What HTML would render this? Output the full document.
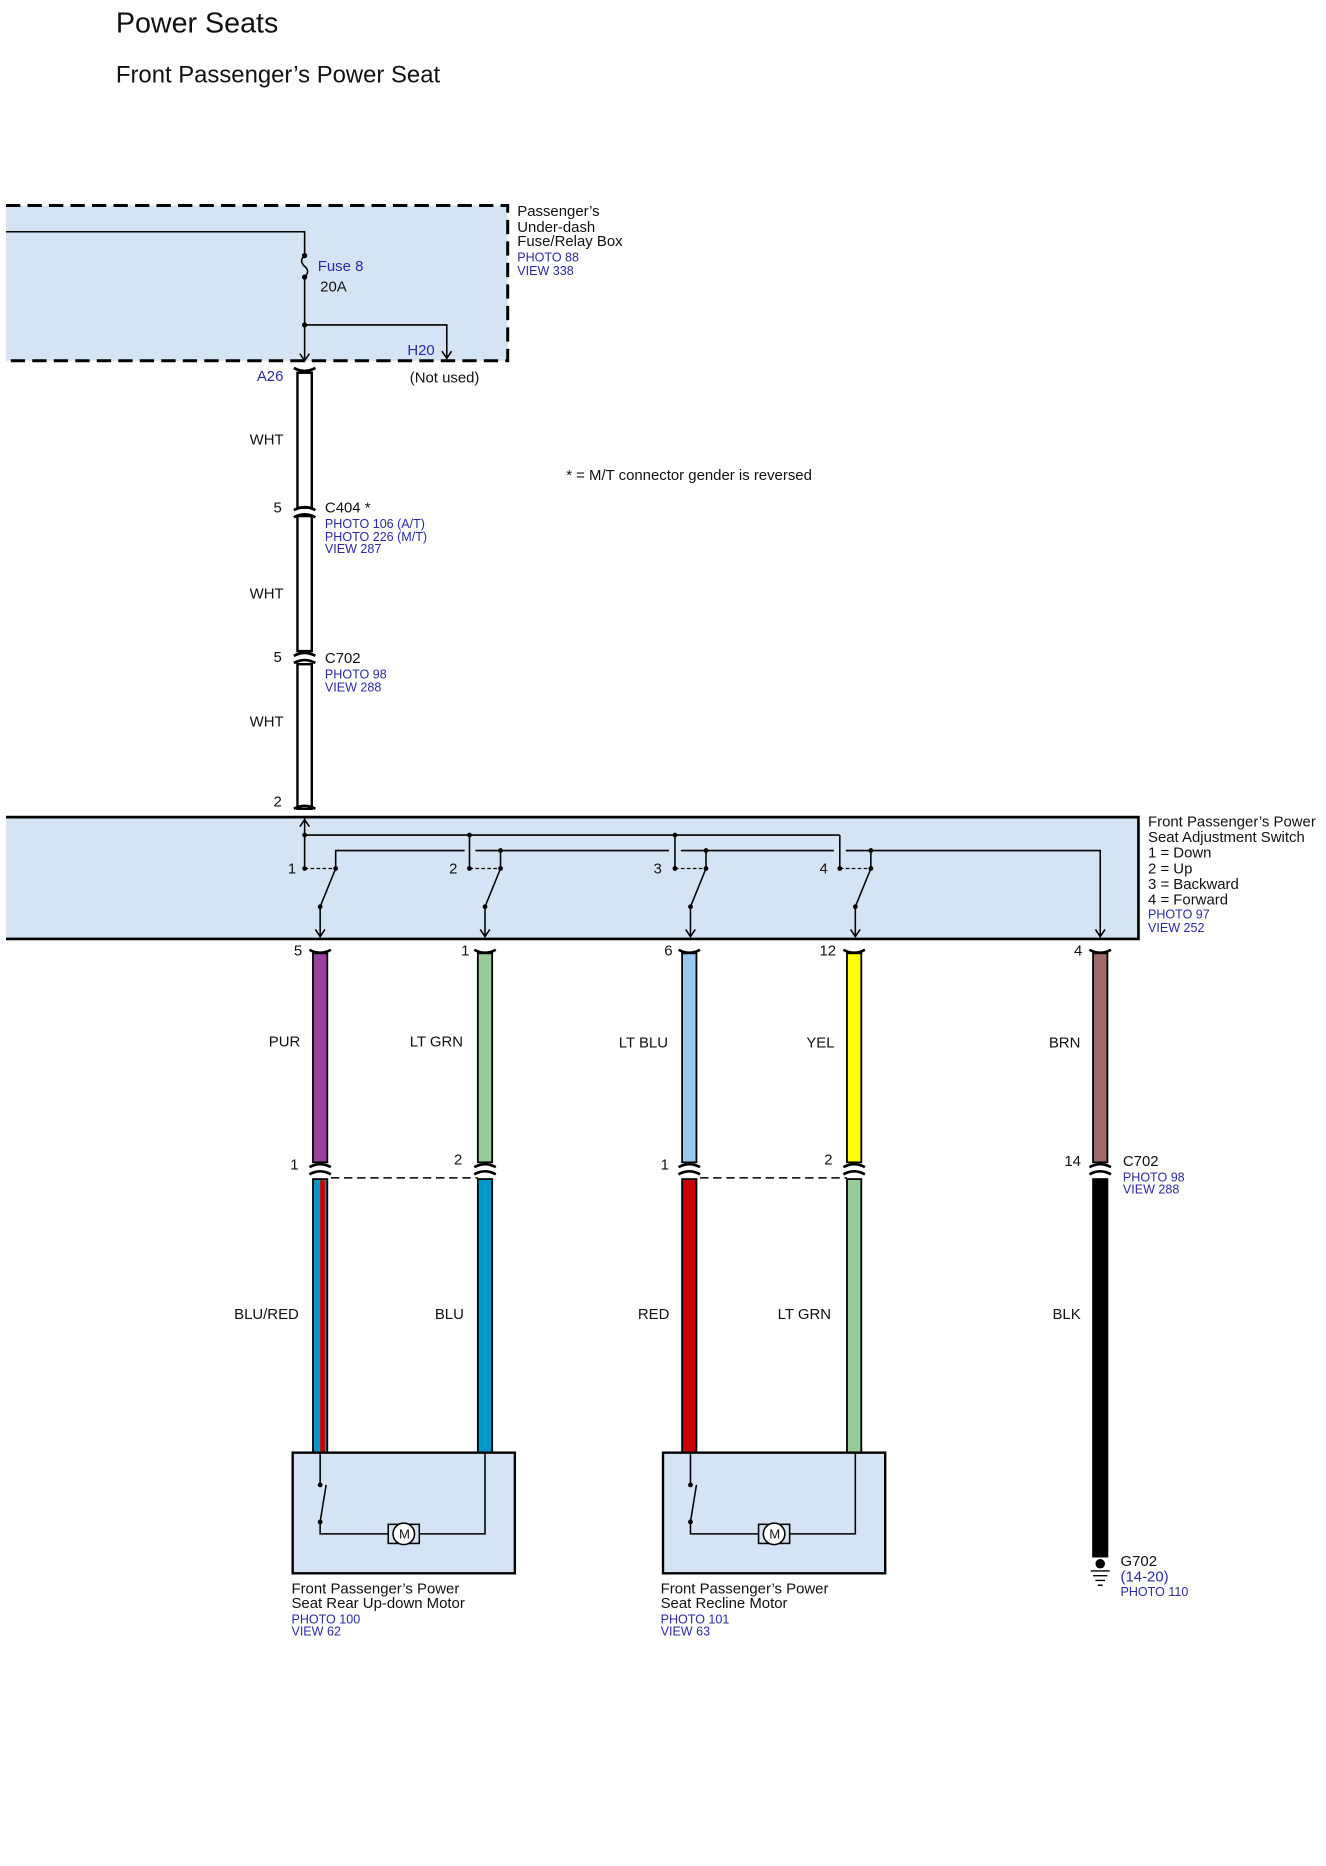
<!DOCTYPE html>
<html><head><meta charset="utf-8"><style>
html,body{margin:0;padding:0;background:#fff}
svg{display:block}
text{font-family:"Liberation Sans",sans-serif;fill:#111}
.s{font-size:12.5px}
.b{font-size:10.5px;fill:#2a2aa0}
.bl{font-size:12.5px;fill:#2a2aa0}
</style></head><body>
<svg width="1326" height="1866" viewBox="0 1 1110 1562" xmlns="http://www.w3.org/2000/svg">
<defs>
<marker id="ar" markerWidth="10" markerHeight="10" refX="9" refY="5" orient="auto" markerUnits="userSpaceOnUse">
<path d="M3,1 L9,5 L3,9" fill="none" stroke="#000" stroke-width="1.3"/></marker>
</defs>
<text x="97" y="28" style="font-size:24px">Power Seats</text>
<text x="97" y="70" style="font-size:20px">Front Passenger’s Power Seat</text>

<rect x="5" y="173" width="420" height="130" fill="#d4e4f4"/>
<path d="M5,173 H425 V303 H5" fill="none" stroke="#000" stroke-width="2.5" stroke-dasharray="12,6"/>
<path d="M5,195 H255 V215" fill="none" stroke="#000" stroke-width="1.3"/>
<path d="M255,215 q-5,4 0,9 q5,4 0,9" fill="none" stroke="#000" stroke-width="1.3"/>
<circle cx="255" cy="215" r="2.2"/><circle cx="255" cy="233" r="2.2"/><circle cx="255" cy="273" r="2.2"/>
<path d="M255,233 V303" fill="none" stroke="#000" stroke-width="1.3" marker-end="url(#ar)"/>
<path d="M255,273 H374 V301" fill="none" stroke="#000" stroke-width="1.3" marker-end="url(#ar)"/>
<text x="266" y="228" class="bl">Fuse 8</text>
<text x="268" y="245" class="s">20A</text>
<text x="341" y="298" class="bl">H20</text>
<text x="433" y="182" class="s">Passenger’s</text>
<text x="433" y="195" class="s">Under-dash</text>
<text x="433" y="207" class="s">Fuse/Relay Box</text>
<text x="433" y="220" class="b">PHOTO 88</text>
<text x="433" y="231" class="b">VIEW 338</text>
<text x="343" y="321" class="s">(Not used)</text>
<text x="215" y="320" class="bl">A26</text>

<g fill="#fff" stroke="#000" stroke-width="2">
<rect x="249" y="313" width="12" height="113"/>
<rect x="249" y="433" width="12" height="113"/>
<rect x="249" y="557" width="12" height="121"/>
</g>
<g fill="none" stroke="#000" stroke-width="2.2">
<path d="M246,309 q9,5 18,0"/><path d="M246,428 q9,-5 18,0"/><path d="M246,434 q9,-5 18,0"/>
<path d="M246,550 q9,-5 18,0"/><path d="M246,556 q9,-5 18,0"/><path d="M246,678 q9,-5 18,0"/>
</g>
<text x="209" y="373" class="s">WHT</text>
<text x="209" y="502" class="s">WHT</text>
<text x="209" y="609" class="s">WHT</text>
<text x="229" y="430" class="s">5</text>
<text x="272" y="430" class="s">C404 *</text>
<text x="272" y="443" class="b">PHOTO 106 (A/T)</text>
<text x="272" y="454" class="b">PHOTO 226 (M/T)</text>
<text x="272" y="464" class="b">VIEW 287</text>
<text x="229" y="555" class="s">5</text>
<text x="272" y="556" class="s">C702</text>
<text x="272" y="569" class="b">PHOTO 98</text>
<text x="272" y="580" class="b">VIEW 288</text>
<text x="229" y="676" class="s">2</text>
<text x="474" y="403" class="s">*  =  M/T connector gender is reversed</text>

<rect x="5" y="685" width="948" height="102" fill="#d4e4f4"/>
<path d="M5,685 H953 V787 H5" fill="none" stroke="#000" stroke-width="2.2"/>
<g fill="none" stroke="#000" stroke-width="1.3">
<path d="M255,700 V687" marker-end="url(#ar)"/>
<path d="M255,700 H703"/>
<path d="M255,700 V728 M393,700 V728 M565,700 V728 M703,700 V728"/>
<path d="M281,728 V713 H389 M398,713 H560 M570,713 H698 M708,713 H921 V785" marker-end="url(#ar)"/>
<path d="M419,713 V728 M591,713 V728 M729,713 V728"/>
</g>
<g fill="#000">
<circle cx="255" cy="700" r="2"/><circle cx="393" cy="700" r="2"/><circle cx="565" cy="700" r="2"/>
<circle cx="419" cy="713" r="2"/><circle cx="591" cy="713" r="2"/><circle cx="729" cy="713" r="2"/>
</g>
<g id="sw">
<circle cx="255" cy="728" r="2"/><circle cx="281" cy="728" r="2"/>
<path d="M255,728 H281" stroke="#000" stroke-width="1" stroke-dasharray="3,2"/>
<path d="M281,728 L268,760" stroke="#000" stroke-width="1.3"/>
<circle cx="268" cy="760" r="2"/>
<path d="M268,760 V785" stroke="#000" stroke-width="1.3" marker-end="url(#ar)"/>
</g>
<use href="#sw" x="138"/><use href="#sw" x="310"/><use href="#sw" x="448"/>
<text x="241" y="732" class="s">1</text>
<text x="376" y="732" class="s">2</text>
<text x="547" y="732" class="s">3</text>
<text x="686" y="732" class="s">4</text>
<text x="961" y="693" class="s">Front Passenger’s Power</text>
<text x="961" y="706" class="s">Seat Adjustment Switch</text>
<text x="961" y="719" class="s">1 = Down</text>
<text x="961" y="732" class="s">2 = Up</text>
<text x="961" y="745" class="s">3 = Backward</text>
<text x="961" y="758" class="s">4 = Forward</text>
<text x="961" y="770" class="b">PHOTO 97</text>
<text x="961" y="781" class="b">VIEW 252</text>

<g stroke="#000" stroke-width="1.5">
<rect x="262" y="799" width="12" height="175" fill="#9b3fa0"/>
<rect x="400" y="799" width="12" height="175" fill="#98cc98"/>
<rect x="571" y="799" width="12" height="175" fill="#99c8f0"/>
<rect x="709" y="799" width="12" height="175" fill="#ffff00"/>
<rect x="915" y="799" width="12" height="175" fill="#9e6a6a"/>
</g>
<g fill="none" stroke="#000" stroke-width="2.2">
<path d="M259,796 q9,5 18,0"/><path d="M397,796 q9,5 18,0"/><path d="M568,796 q9,5 18,0"/><path d="M706,796 q9,5 18,0"/><path d="M912,796 q9,5 18,0"/>
<path d="M259,978 q9,-5 18,0"/><path d="M397,978 q9,-5 18,0"/><path d="M568,978 q9,-5 18,0"/><path d="M706,978 q9,-5 18,0"/><path d="M912,978 q9,-5 18,0"/>
<path d="M259,984 q9,-5 18,0"/><path d="M397,984 q9,-5 18,0"/><path d="M568,984 q9,-5 18,0"/><path d="M706,984 q9,-5 18,0"/><path d="M912,984 q9,-5 18,0"/>
</g>
<text x="246" y="801" class="s">5</text>
<text x="386" y="801" class="s">1</text>
<text x="556" y="801" class="s">6</text>
<text x="686" y="801" class="s">12</text>
<text x="899" y="801" class="s">4</text>
<text x="225" y="877" class="s">PUR</text>
<text x="343" y="877" class="s">LT GRN</text>
<text x="518" y="878" class="s">LT BLU</text>
<text x="675" y="878" class="s">YEL</text>
<text x="878" y="878" class="s">BRN</text>
<text x="243" y="980" class="s">1</text>
<text x="380" y="976" class="s">2</text>
<text x="553" y="980" class="s">1</text>
<text x="690" y="976" class="s">2</text>
<text x="891" y="977" class="s">14</text>
<text x="940" y="977" class="s">C702</text>
<text x="940" y="990" class="b">PHOTO 98</text>
<text x="940" y="1000" class="b">VIEW 288</text>
<path d="M277,987 H400 M586,987 H709" stroke="#000" stroke-width="1.2" stroke-dasharray="7,4"/>

<g stroke="#000" stroke-width="1.5">
<rect x="262" y="988" width="12" height="229" fill="#0099cc"/>
<rect x="400" y="988" width="12" height="229" fill="#0099cc"/>
<rect x="571" y="988" width="12" height="229" fill="#cc0000"/>
<rect x="709" y="988" width="12" height="229" fill="#98cc98"/>
<rect x="915" y="988" width="12" height="316" fill="#000"/>
</g>
<rect x="268" y="989" width="4" height="227" fill="#cc0000"/>
<text x="196" y="1105" class="s">BLU/RED</text>
<text x="364" y="1105" class="s">BLU</text>
<text x="534" y="1105" class="s">RED</text>
<text x="651" y="1105" class="s">LT GRN</text>
<text x="881" y="1105" class="s">BLK</text>

<g id="mo">
<rect x="245" y="1217" width="186" height="101" fill="#d4e4f4" stroke="#000" stroke-width="2"/>
<path d="M268,1217 V1244 M273,1244 L268,1275 M268,1275 V1285 H406 V1217" fill="none" stroke="#000" stroke-width="1.3"/>
<circle cx="268" cy="1244" r="2"/><circle cx="268" cy="1275" r="2"/>
<rect x="325" y="1277" width="26" height="16" fill="#d4e4f4" stroke="#000" stroke-width="1.3"/>
<circle cx="338" cy="1285" r="9" fill="#fff" stroke="#000" stroke-width="1.3"/>
<text x="334" y="1289" style="font-size:11px">M</text>
</g>
<use href="#mo" x="310"/>
<text x="244" y="1335" class="s">Front Passenger’s Power</text>
<text x="244" y="1347" class="s">Seat Rear Up-down Motor</text>
<text x="244" y="1360" class="b">PHOTO 100</text>
<text x="244" y="1370" class="b">VIEW 62</text>
<text x="553" y="1335" class="s">Front Passenger’s Power</text>
<text x="553" y="1347" class="s">Seat Recline Motor</text>
<text x="553" y="1360" class="b">PHOTO 101</text>
<text x="553" y="1370" class="b">VIEW 63</text>

<circle cx="921" cy="1310" r="4"/>
<path d="M913,1316 H929 M915,1320 H927 M917,1324 H925 M919,1328 H923" stroke="#000" stroke-width="1.2"/>
<text x="938" y="1312" class="s">G702</text>
<text x="938" y="1325" class="bl">(14-20)</text>
<text x="938" y="1337" class="b">PHOTO 110</text>
</svg>
</body></html>
